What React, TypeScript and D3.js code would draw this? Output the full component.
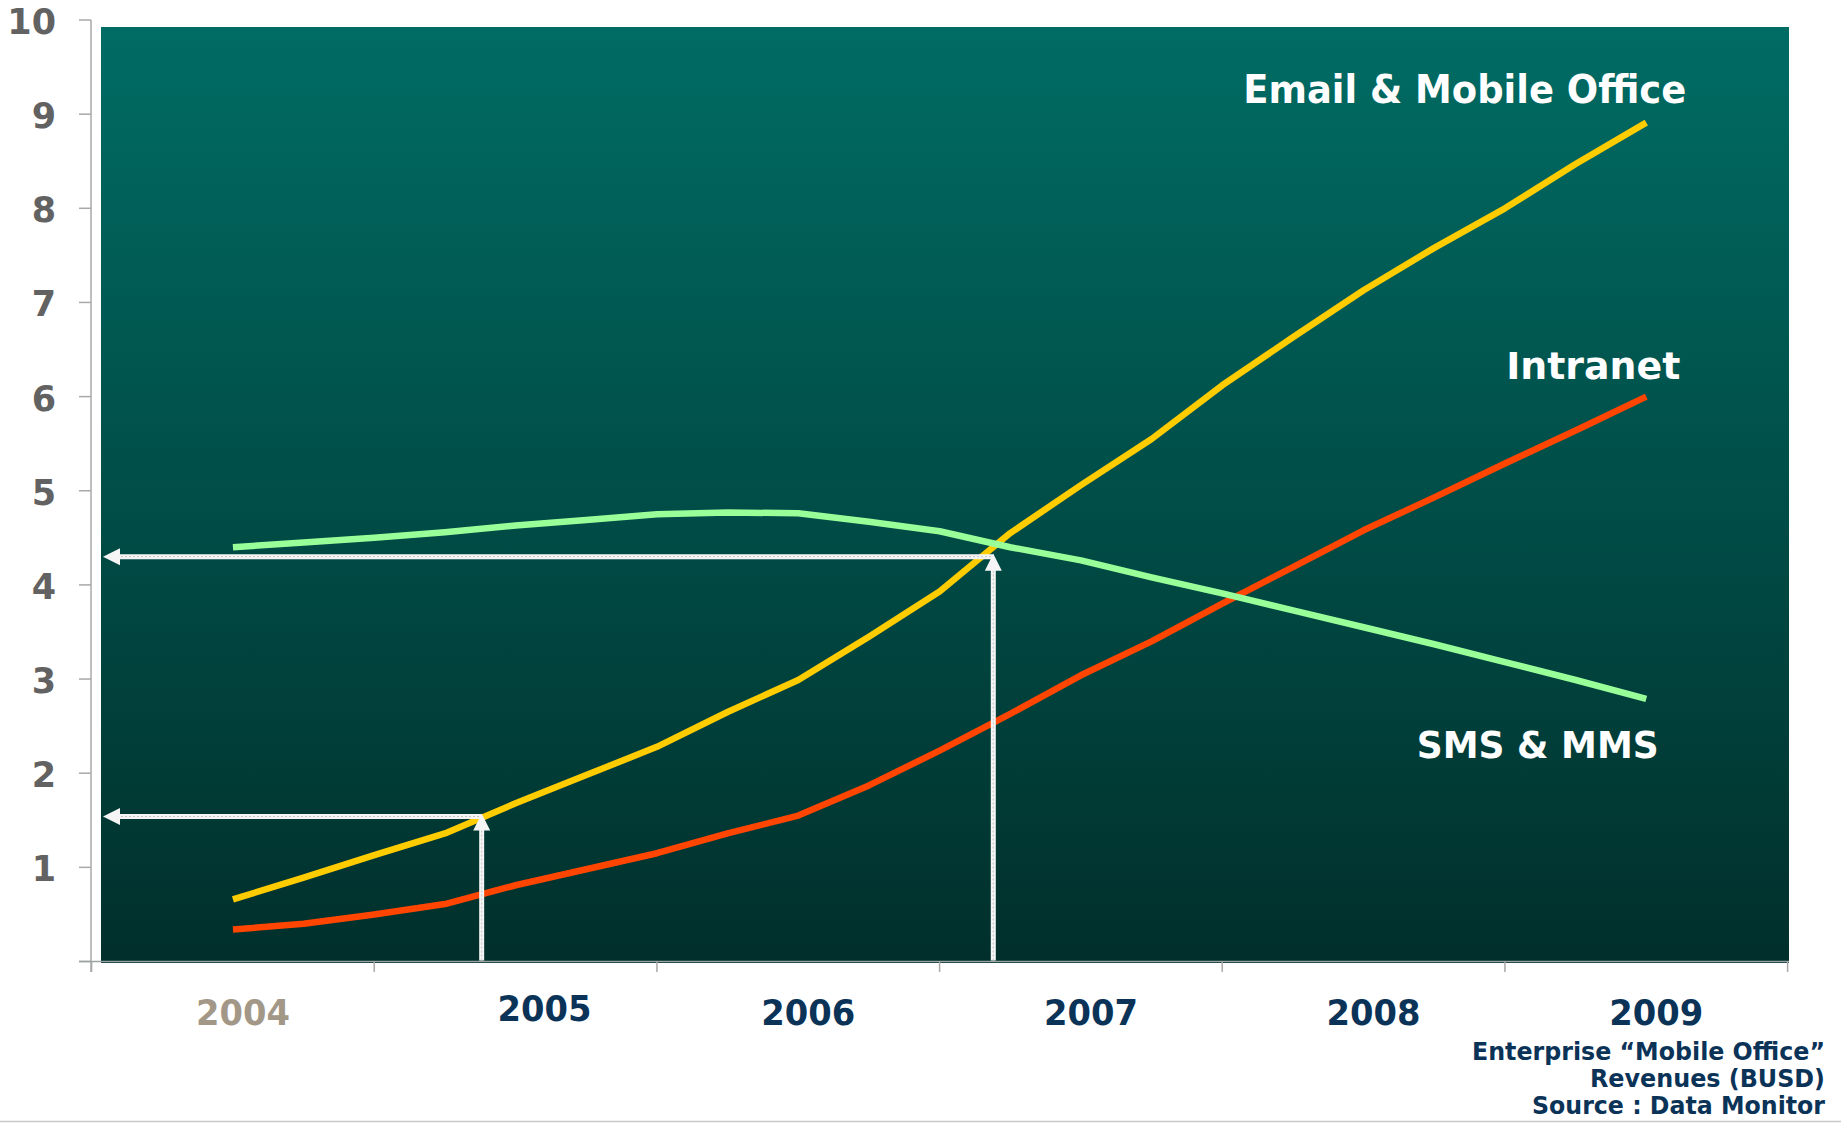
import * as d3 from "d3";

// category labels along the bottom
const years = ["2004", "2005", "2006", "2007", "2008", "2009"];

// quarterly positions of the plotted points
const quarters = [
  2004, 2004.25, 2004.5, 2004.75, 2005, 2005.25, 2005.5, 2005.75, 2006, 2006.25, 2006.5,
  2006.75, 2007, 2007.25, 2007.5, 2007.75, 2008, 2008.25, 2008.5, 2008.75, 2009,
];

// revenues, billions USD
const emailOffice = [
  0.66, 0.89, 1.13, 1.36, 1.68, 1.98, 2.28, 2.65, 2.99, 3.45, 3.93,
  4.55, 5.06, 5.55, 6.12, 6.63, 7.13, 7.58, 8.0, 8.47, 8.91,
];
const intranet = [
  0.34, 0.4, 0.5, 0.61, 0.81, 0.98, 1.15, 1.36, 1.55, 1.87, 2.24,
  2.63, 3.04, 3.4, 3.8, 4.19, 4.58, 4.93, 5.29, 5.64, 6.0,
];
const smsMms = [
  4.4, 4.45, 4.5, 4.56, 4.63, 4.69, 4.75, 4.77, 4.76, 4.67, 4.57,
  4.4, 4.26, 4.08, 3.91, 3.73, 3.55, 3.37, 3.18, 2.99, 2.79,
];

const yTicks = [0, 1, 2, 3, 4, 5, 6, 7, 8, 9, 10];

// the two read-off arrows (year, value)
const callouts = [
  { year: 2006.69, value: 4.3 },
  { year: 2004.88, value: 1.54 },
];

const notes = ["Enterprise \u201cMobile Office\u201d", "Revenues (BUSD)", "Source : Data Monitor"];

const W = 1841;
const H = 1123;
const font = "'DejaVu Sans', Verdana, sans-serif";

export default function App() {
  const x = d3.scaleLinear().domain([2003.5, 2009.5]).range([91.6, 1787.6]);
  const y = d3.scaleLinear().domain([0, 10]).range([961.5, 20]);

  const line = d3
    .line<number>()
    .x((d, i) => x(quarters[i]))
    .y((d) => y(d));

  const series = [
    { values: intranet, color: "#ff4500" },
    { values: emailOffice, color: "#ffcc00" },
    { values: smsMms, color: "#99ff99" },
  ];

  const xTicks = d3.range(years.length + 1).map((i) => 2003.5 + i);
  const endX = x(quarters[quarters.length - 1]);
  const last = (a: number[]) => a[a.length - 1];
  const tipX = 103;

  return (
    <svg
      width={W}
      height={H}
      style={{ position: "absolute", left: 0, top: 0, background: "#fff" }}
    >
      <defs>
        <linearGradient id="bg" x1="0" y1="0" x2="0" y2="1">
          <stop offset="0" stopColor="#006c64" />
          <stop offset="1" stopColor="#012f2b" />
        </linearGradient>
      </defs>

      {/* plot background */}
      <rect x={101} y={27} width={1688} height={936} fill="url(#bg)" />

      {/* y axis */}
      <line x1={91} x2={91} y1={y(10)} y2={972} stroke="#a8a8a8" strokeWidth={1.5} />
      {yTicks.map((t) => (
        <g key={t}>
          <line x1={79} x2={91} y1={y(t)} y2={y(t)} stroke="#a8a8a8" strokeWidth={1.5} />
          {t > 0 && (
            <text
              x={56}
              y={y(t) + 14}
              textAnchor="end"
              fontFamily={font}
              fontWeight="bold"
              fontSize={35}
              fill="#626262"
            >
              {t}
            </text>
          )}
        </g>
      ))}

      {/* x axis */}
      <line x1={79} x2={1789} y1={961.5} y2={961.5} stroke="#9aa5a3" strokeWidth={1.5} />
      {xTicks.map((t) => (
        <line key={t} x1={x(t)} x2={x(t)} y1={961.5} y2={972} stroke="#a8a8a8" strokeWidth={1.5} />
      ))}
      {years.map((yr, i) => (
        <text
          key={yr}
          x={x(+yr) + (yr === "2005" ? 29 : 10)}
          y={yr === "2005" ? 1020.5 : 1025}
          textAnchor="middle"
          fontFamily={font}
          fontWeight="bold"
          fontSize={35}
          textLength={94}
          lengthAdjust="spacingAndGlyphs"
          fill={i === 0 ? "#a39888" : "#0b3358"}
        >
          {yr}
        </text>
      ))}

      {/* series */}
      {series.map((s) => (
        <path
          key={s.color}
          d={line(s.values) || ""}
          fill="none"
          stroke={s.color}
          strokeWidth={6.5}
          strokeLinejoin="round"
        />
      ))}

      {/* read-off arrows */}
      {callouts.map((c, i) => {
        const px = x(c.year);
        const py = y(c.value);
        return (
          <g key={i}>
            <line x1={tipX + 14} x2={px} y1={py} y2={py} stroke="#f5f5f5" strokeWidth={5} />
            <line x1={tipX + 14} x2={px} y1={py} y2={py} stroke="#c4c4c4" strokeWidth={1} strokeDasharray="2 2" />
            <line x1={px} x2={px} y1={y(0) - 1} y2={py + 10} stroke="#f5f5f5" strokeWidth={5} />
            <line x1={px} x2={px} y1={y(0) - 1} y2={py + 10} stroke="#c4c4c4" strokeWidth={1} strokeDasharray="2 2" />
            <polygon
              points={`${tipX},${py} ${tipX + 17},${py - 8.5} ${tipX + 17},${py + 8.5}`}
              fill="#f5f5f5"
            />
            <polygon
              points={`${px},${py - 3} ${px - 8.5},${py + 14} ${px + 8.5},${py + 14}`}
              fill="#f5f5f5"
            />
          </g>
        );
      })}

      {/* series labels */}
      <g fontFamily={font} fontWeight="bold" fill="#ffffff" textAnchor="end">
        <text
          x={endX + 40}
          y={y(last(emailOffice)) - 19.5}
          fontSize={38.5}
          textLength={443}
          lengthAdjust="spacingAndGlyphs"
        >
          Email &amp; Mobile Office
        </text>
        <text
          x={endX + 34}
          y={y(last(intranet)) - 17.5}
          fontSize={37}
          textLength={174}
          lengthAdjust="spacingAndGlyphs"
        >
          Intranet
        </text>
        <text
          x={endX + 12.5}
          y={y(last(smsMms)) + 59}
          fontSize={37}
          textLength={242}
          lengthAdjust="spacingAndGlyphs"
        >
          SMS &amp; MMS
        </text>
      </g>

      {/* caption */}
      <g fontFamily={font} fontWeight="bold" fontSize={24} fill="#0b3358" textAnchor="end">
        {notes.map((n, i) => (
          <text
            key={n}
            x={1825}
            y={1060 + i * 27}
            textLength={[353, 235, 293][i]}
            lengthAdjust="spacingAndGlyphs"
          >
            {n}
          </text>
        ))}
      </g>

      {/* bottom rule */}
      <line x1={0} x2={W} y1={1121.5} y2={1121.5} stroke="#c8c8c8" strokeWidth={1.5} />
    </svg>
  );
}
